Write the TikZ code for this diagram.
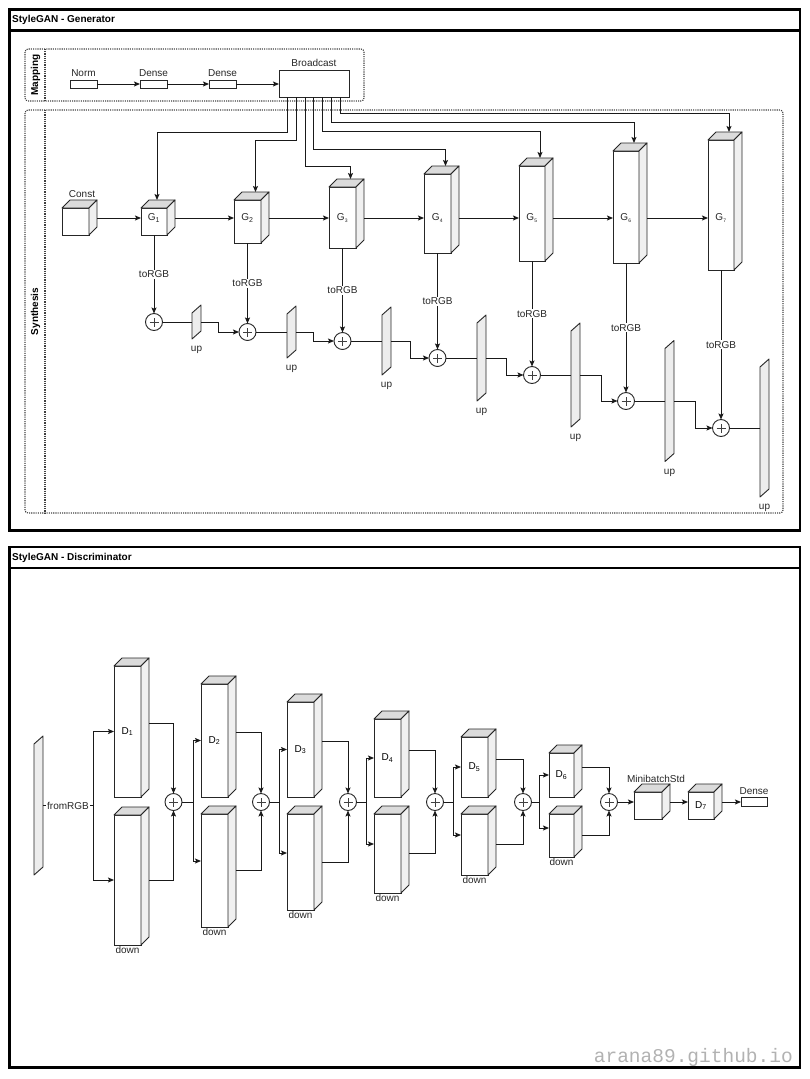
\documentclass[tikz,border=0pt]{standalone}
\usepackage{fontspec}
\setmainfont{Liberation Sans}
\newfontfamily\wmfont{Liberation Mono}
\usetikzlibrary{arrows.meta,calc}

\tikzset{
  wire/.style={draw=black!90, line width=0.9pt},
  arr/.style={wire, -{Stealth[length=6pt,width=5pt,inset=1.2pt]}},
  frontface/.style={draw=black!85, fill=white, line width=0.9pt, inner sep=0pt, outer sep=0pt, font=\fontsize{10}{12}\selectfont},
  topface/.style={draw=black!85, fill=black!14, line width=0.9pt, line join=round},
  sideface/.style={draw=black!85, fill=black!6, line width=0.9pt, line join=round},
  upface/.style={draw=black!85, fill=black!7, line width=0.9pt, line join=round},
  lbl/.style={font=\fontsize{10}{12}\selectfont, inner sep=1pt, text=black!85},
  ttl/.style={font=\bfseries\fontsize{10}{12}\selectfont, inner sep=0pt},
  frame/.style={draw=black, line width=2.5pt},
  dotbox/.style={draw=black!75, line width=1.1pt, dash pattern=on 1.1pt off 1.1pt, rounded corners=3pt},
  rectbox/.style={draw=black!85, fill=white, line width=0.9pt, inner sep=0pt, outer sep=0pt},
  plusnode/.style={circle, draw=black!85, fill=white, line width=0.9pt, minimum size=17pt, inner sep=0pt, outer sep=0pt,
    path picture={\draw[black!75, line width=0.5pt] ([xshift=-4.5pt]path picture bounding box.center) -- ([xshift=4.5pt]path picture bounding box.center) ([yshift=-4.5pt]path picture bounding box.center) -- ([yshift=4.5pt]path picture bounding box.center);}},
}

% 3D block: name, x, y (top-left of front face), width, height, text
\newcommand{\mkcube}[6]{%
  \node[frontface, minimum width=#4pt, minimum height=#5pt, anchor=north west] (#1) at (#2,#3) {#6};
  \draw[topface] (#1.north west) -- ([shift={(8pt,8pt)}]#1.north west) -- ([shift={(8pt,8pt)}]#1.north east) -- (#1.north east) -- cycle;
  \draw[sideface] (#1.north east) -- ([shift={(8pt,8pt)}]#1.north east) -- ([shift={(8pt,8pt)}]#1.south east) -- (#1.south east) -- cycle;
  \coordinate (#1-s) at ([shift={(8pt,8pt)}]#1.east);
  \coordinate (#1-r) at ([xshift=8pt]#1.east);
}
% slanted block: name, x-left, y-centre, height
\newcommand{\mkpar}[4]{%
  \node[minimum width=9pt, minimum height=#4pt, inner sep=0pt, outer sep=0pt, anchor=west] (#1) at (#2,#3) {};
  \draw[upface] (#1.south west) -- ([yshift=-8pt]#1.north west) -- (#1.north east) -- ([yshift=8pt]#1.south east) -- cycle;
}

\begin{document}
\begin{tikzpicture}[x=1pt,y=-1pt]
\useasboundingbox (0,0) rectangle (810,1079);

% ================= GENERATOR =================
\draw[frame] (9.5,9.5) rectangle (800,530.5);
\draw[frame] (9.5,30.5) -- (800,30.5);
\node[ttl, anchor=west] (gtitle) at (12,20) {StyleGAN - Generator};

% Mapping
\draw[dotbox] (25,49) rectangle (364,101);
\draw[dotbox] (45,49) -- (45,101);
\node[ttl, rotate=90] (maplbl) at (35.5,75) {Mapping};

\node[rectbox, minimum width=27pt, minimum height=8pt, label={[lbl, label distance=2.5pt]above:Norm}] (norm) at (83.5,84) {};
\node[rectbox, minimum width=27pt, minimum height=8pt, label={[lbl, label distance=2.5pt]above:Dense}] (dense1) at (153.5,84) {};
\node[rectbox, minimum width=27pt, minimum height=8pt, label={[lbl, label distance=2.5pt]above:Dense}] (dense2) at (222.5,84) {};
\node[rectbox, minimum width=70pt, minimum height=27pt, label={[lbl, label distance=2pt]above:Broadcast}] (bc) at (314,83.5) {};
\draw[arr] (norm) -- (dense1);
\draw[arr] (dense1) -- (dense2);
\draw[arr] (dense2) -- (bc.west |- dense2);

% Synthesis
\draw[dotbox] (25,110) rectangle (783,513);
\draw[dotbox] (45,110) -- (45,513);
\node[ttl, rotate=90] (synlbl) at (35.5,311.5) {Synthesis};

\coordinate (gy) at (0,218);
\mkcube{const}{62}{208}{27}{27}{}
\node[lbl] (constl) at (82,194) {Const};
\mkcube{g1}{141}{208}{26}{27}{}
\mkcube{g2}{234}{200}{27}{43}{}
\mkcube{g3}{329}{187}{27}{61}{}
\mkcube{g4}{424}{174}{27}{79}{}
\mkcube{g5}{519}{166}{26}{95}{}
\mkcube{g6}{613}{151}{26}{112}{}
\mkcube{g7}{708}{140}{26}{130}{}
\node[lbl] (g1l) at (g1 |- gy) {G\textsubscript{1}};
\node[lbl] (g2l) at (g2 |- gy) {G\textsubscript{2}};
\node[lbl] (g3l) at (g3 |- gy) {G\textsubscript{\tiny 3}};
\node[lbl] (g4l) at (g4 |- gy) {G\textsubscript{\tiny 4}};
\node[lbl] (g5l) at (g5 |- gy) {G\textsubscript{\tiny 5}};
\node[lbl] (g6l) at (g6 |- gy) {G\textsubscript{\tiny 6}};
\node[lbl] (g7l) at (g7 |- gy) {G\textsubscript{\tiny 7}};

\draw[arr] (const-r |- gy) -- (g1.west |- gy);
\draw[arr] (g1-r |- gy) -- (g2.west |- gy);
\draw[arr] (g2-r |- gy) -- (g3.west |- gy);
\draw[arr] (g3-r |- gy) -- (g4.west |- gy);
\draw[arr] (g4-r |- gy) -- (g5.west |- gy);
\draw[arr] (g5-r |- gy) -- (g6.west |- gy);
\draw[arr] (g6-r |- gy) -- (g7.west |- gy);

% broadcast wires
\draw[arr] ([xshift=8pt]bc.south west) -- ++(0,35) -| ([shift={(3pt,8pt)}]g1.north);
\draw[arr] ([xshift=17pt]bc.south west) -- ++(0,43) -| ([shift={(8pt,8pt)}]g2.north);
\draw[arr] ([xshift=26pt]bc.south west) -- ++(0,69) -| ([shift={(8pt,8pt)}]g3.north);
\draw[arr] ([xshift=34pt]bc.south west) -- ++(0,52) -| ([shift={(8pt,8pt)}]g4.north);
\draw[arr] ([xshift=43pt]bc.south west) -- ++(0,34) -| ([shift={(8pt,8pt)}]g5.north);
\draw[arr] ([xshift=52pt]bc.south west) -- ++(0,25) -| ([shift={(8pt,8pt)}]g6.north);
\draw[arr] ([xshift=61pt]bc.south west) -- ++(0,16) -| ([shift={(8pt,8pt)}]g7.north);

% plus nodes and toRGB
\node[plusnode] (p1) at (154,322) {};
\node[plusnode] (p2) at (247.5,332) {};
\node[plusnode] (p3) at (342.5,341) {};
\node[plusnode] (p4) at (437.5,358) {};
\node[plusnode] (p5) at (532,375) {};
\node[plusnode] (p6) at (626,401) {};
\node[plusnode] (p7) at (721,428) {};
\foreach \i in {1,...,7}{
  \draw[arr] (g\i.south) -- node[lbl, fill=white]{toRGB} (p\i.north);
}

% up blocks
\mkpar{u1}{192}{322}{34}
\mkpar{u2}{287}{332}{52}
\mkpar{u3}{382}{341}{68}
\mkpar{u4}{477}{358}{86}
\mkpar{u5}{571}{375}{104}
\mkpar{u6}{665}{401}{121}
\mkpar{u7}{760}{428}{138}
\foreach \i in {1,...,7}{
  \node[lbl, anchor=north] (u\i l) at ([yshift=-6pt]u\i.south) {up};
  \draw[wire] (p\i.east) -- (u\i.west);
}
\draw[arr] (u1.east) -- ++(17,0) |- (p2.west);
\draw[arr] (u2.east) -- ++(17,0) |- (p3.west);
\draw[arr] (u3.east) -- ++(19,0) |- (p4.west);
\draw[arr] (u4.east) -- ++(20,0) |- (p5.west);
\draw[arr] (u5.east) -- ++(21,0) |- (p6.west);
\draw[arr] (u6.east) -- ++(21,0) |- (p7.west);

% ================= DISCRIMINATOR =================
\draw[frame] (9.5,547) rectangle (800,1067.5);
\draw[frame] (9.5,568) -- (800,568);
\node[ttl, anchor=west] (dtitle) at (12,558) {StyleGAN - Discriminator};

\mkpar{fr}{34}{805.5}{139}

\mkcube{d1}{114}{666}{27}{131}{D\textsubscript{1}}
\mkcube{dn1}{114}{815}{27}{130}{}
\mkcube{d2}{201}{684}{27}{113}{D\textsubscript{2}}
\mkcube{dn2}{201}{814}{27}{113}{}
\mkcube{d3}{287}{702}{27}{95}{D\textsubscript{3}}
\mkcube{dn3}{287}{814}{27}{96}{}
\mkcube{d4}{374}{719}{27}{78}{D\textsubscript{4}}
\mkcube{dn4}{374}{814}{27}{79}{}
\mkcube{d5}{461}{737}{27}{60}{D\textsubscript{5}}
\mkcube{dn5}{461}{814}{27}{61}{}
\mkcube{d6}{549}{753}{25}{44}{D\textsubscript{6}}
\mkcube{dn6}{549}{814}{25}{43}{}
\mkcube{mb}{634}{792}{28}{27}{}
\mkcube{d7}{688}{792}{26}{27}{D\textsubscript{7}}
\node[lbl, anchor=south] (mbl) at ([shift={(8pt,8pt)}]mb.north) {MinibatchStd};
\node[rectbox, minimum width=26pt, minimum height=9pt, label={[lbl, label distance=1pt]above:Dense}] (dense3) at (754,801.5) {};
\foreach \i in {1,...,6}{
  \node[lbl, anchor=north] (dn\i l) at (dn\i.south) {down};
}

\node[plusnode] (dp1) at (173.5,802) {};
\node[plusnode] (dp2) at (261,802) {};
\node[plusnode] (dp3) at (348,802) {};
\node[plusnode] (dp4) at (435,802) {};
\node[plusnode] (dp5) at (523,802) {};
\node[plusnode] (dp6) at (609,802) {};

% fromRGB split
\draw[arr] (fr.east) -- node[lbl, fill=white]{fromRGB} ++(50,0) |- (d1.west);
\draw[arr] ($(fr.east)+(50,0)$) |- (dn1.west);
% splits after each sum
\draw[arr] (dp1.east) -- ++(11,0) |- (d2.west);
\draw[arr] ($(dp1.east)+(11,0)$) |- ([yshift=9.5pt]dn2.west);
\draw[arr] (dp2.east) -- ++(9.5,0) |- (d3.west);
\draw[arr] ($(dp2.east)+(9.5,0)$) |- ([yshift=9pt]dn3.west);
\draw[arr] (dp3.east) -- ++(9.5,0) |- (d4.west);
\draw[arr] ($(dp3.east)+(9.5,0)$) |- ([yshift=9.5pt]dn4.west);
\draw[arr] (dp4.east) -- ++(9.5,0) |- (d5.west);
\draw[arr] ($(dp4.east)+(9.5,0)$) |- ([yshift=9.5pt]dn5.west);
\draw[arr] (dp5.east) -- ++(7.5,0) |- (d6.west);
\draw[arr] ($(dp5.east)+(7.5,0)$) |- ([yshift=7.5pt]dn6.west);
% merges
\foreach \i in {1,...,6}{
  \draw[arr] (d\i-s) -| (dp\i.north);
  \draw[arr] (dn\i-r) -| (dp\i.south);
}
\draw[arr] (dp6.east) -- (mb.west |- dp6);
\draw[arr] (mb-r |- dp6) -- (d7.west |- dp6);
\draw[arr] (d7-r |- dp6) -- (dense3.west |- dp6);

% watermark
\node[font=\wmfont\fontsize{19.5}{20}\selectfont, text=black!30, anchor=base east, inner sep=0pt] (wm) at (793,1062) {arana89.github.io};
\end{tikzpicture}
\end{document}
